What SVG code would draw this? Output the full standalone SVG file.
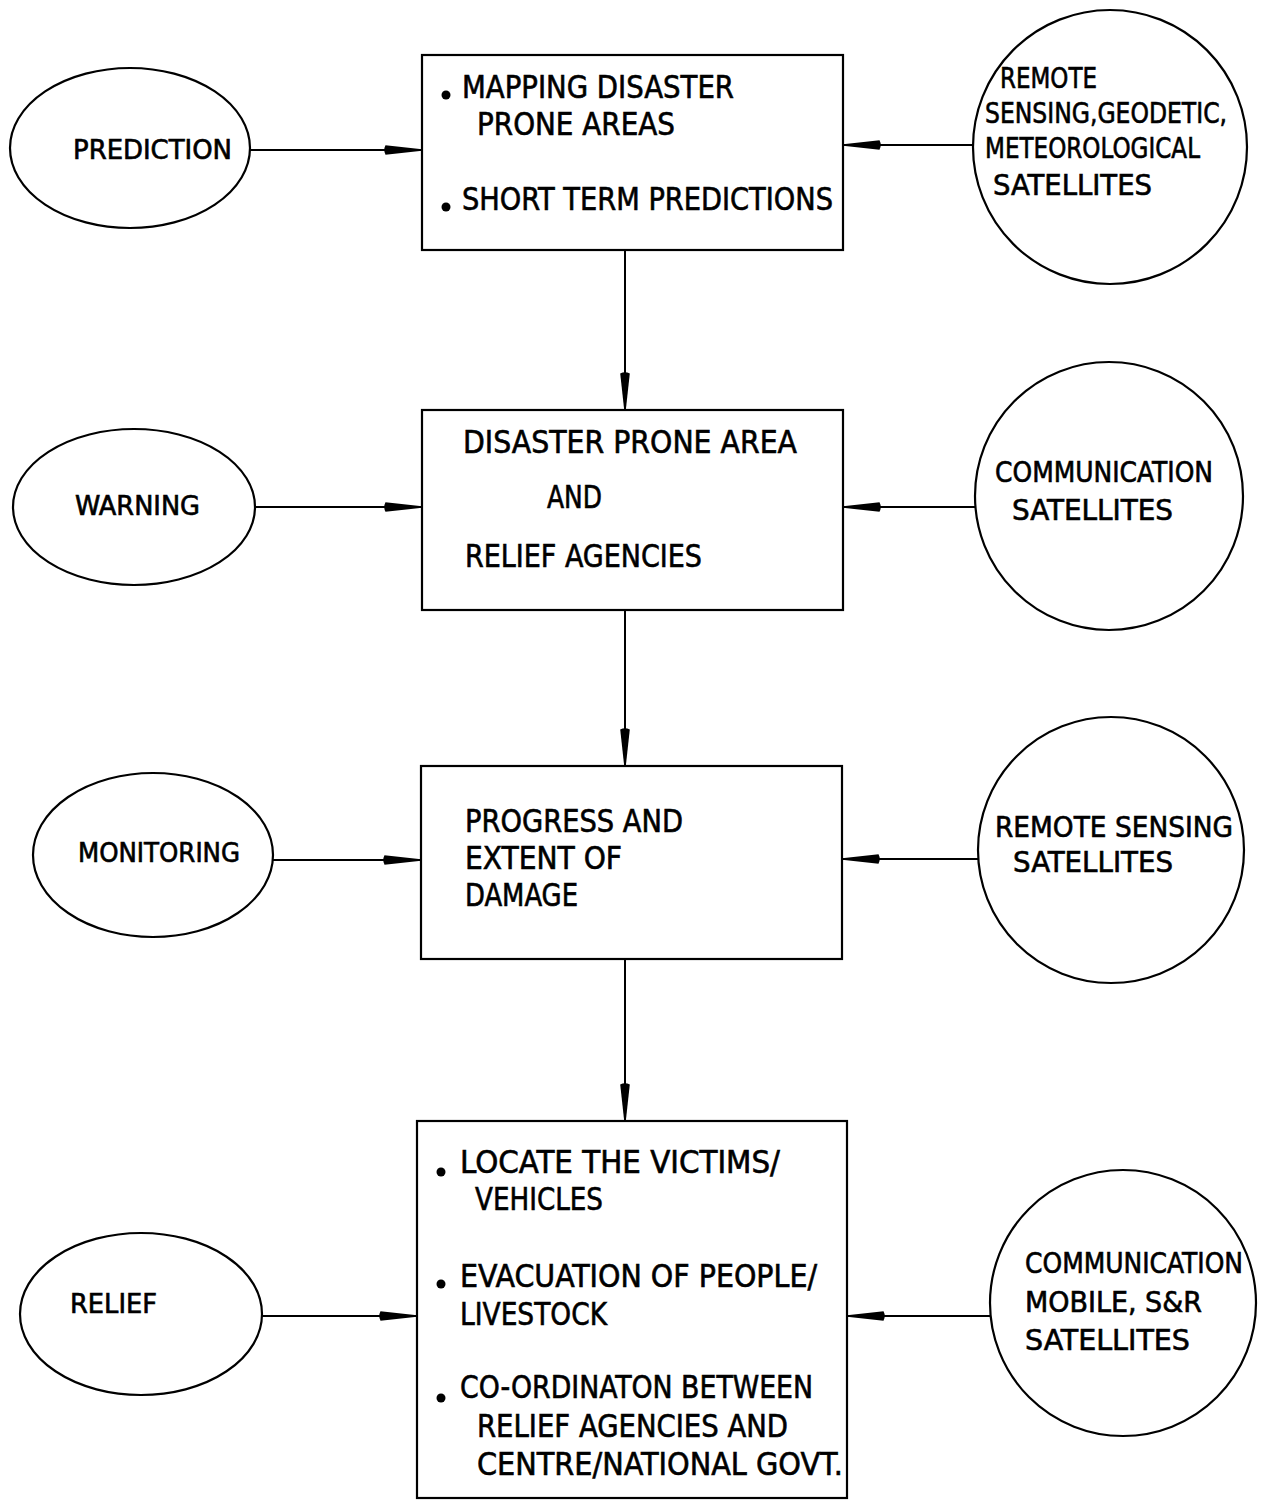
<svg xmlns="http://www.w3.org/2000/svg" width="1270" height="1500" viewBox="0 0 1270 1500">
  <style>
    .shape { fill: #fff; stroke: #000; stroke-width: 2.2; }
    .link { fill: none; stroke: #000; stroke-width: 2; }
    text { font-family: "Liberation Sans Narrow", "DejaVu Sans Condensed", "Liberation Sans", sans-serif; fill: #000; stroke: #000; stroke-width: 0.6; }
    .box { font-size: 32px; }
    .sat { font-size: 29px; }
    .phase { font-size: 26px; }
    .dot { fill: #000; }
  </style>
  <defs>
    <marker id="head" viewBox="0 0 38 12" refX="38" refY="6" markerWidth="38" markerHeight="12" markerUnits="userSpaceOnUse" orient="auto">
      <path d="M1.5,1.2 Q-1,6 1.5,10.8 L38,6.8 L38,5.2 Z" fill="#000"/>
    </marker>
  </defs>

  <rect width="1270" height="1500" fill="#fff"/>

  <!-- connectors -->
  <g id="connectors">
    <line class="link" x1="250" y1="150" x2="422" y2="150" marker-end="url(#head)"/>
    <line class="link" x1="973" y1="145" x2="843" y2="145" marker-end="url(#head)"/>
    <line class="link" x1="625" y1="250" x2="625" y2="410" marker-end="url(#head)"/>
    <line class="link" x1="255" y1="507" x2="422" y2="507" marker-end="url(#head)"/>
    <line class="link" x1="975" y1="507" x2="843" y2="507" marker-end="url(#head)"/>
    <line class="link" x1="625" y1="610" x2="625" y2="766" marker-end="url(#head)"/>
    <line class="link" x1="273" y1="860" x2="421" y2="860" marker-end="url(#head)"/>
    <line class="link" x1="980" y1="859" x2="842" y2="859" marker-end="url(#head)"/>
    <line class="link" x1="625" y1="959" x2="625" y2="1121" marker-end="url(#head)"/>
    <line class="link" x1="262" y1="1316" x2="417" y2="1316" marker-end="url(#head)"/>
    <line class="link" x1="990" y1="1316" x2="847" y2="1316" marker-end="url(#head)"/>
  </g>

  <!-- phase ellipses -->
  <g id="prediction">
    <ellipse class="shape" cx="130" cy="148" rx="120" ry="80"/>
    <text class="phase" x="73" y="159" textLength="159" lengthAdjust="spacingAndGlyphs">PREDICTION</text>
  </g>
  <g id="warning">
    <ellipse class="shape" cx="134" cy="507" rx="121" ry="78"/>
    <text class="phase" x="75" y="515" textLength="125" lengthAdjust="spacingAndGlyphs">WARNING</text>
  </g>
  <g id="monitoring">
    <ellipse class="shape" cx="153" cy="855" rx="120" ry="82"/>
    <text class="phase" x="78" y="862" textLength="162" lengthAdjust="spacingAndGlyphs">MONITORING</text>
  </g>
  <g id="relief">
    <ellipse class="shape" cx="141" cy="1314" rx="121" ry="81"/>
    <text class="phase" x="70" y="1313" textLength="87" lengthAdjust="spacingAndGlyphs">RELIEF</text>
  </g>

  <!-- activity boxes -->
  <g id="box-prediction">
    <rect class="shape" x="422" y="55" width="421" height="195"/>
    <circle class="dot" cx="446" cy="95" r="4.5"/>
    <text class="box" x="462" y="98" textLength="272" lengthAdjust="spacingAndGlyphs">MAPPING DISASTER</text>
    <text class="box" x="477" y="135" textLength="198" lengthAdjust="spacingAndGlyphs">PRONE AREAS</text>
    <circle class="dot" cx="446" cy="207" r="4.5"/>
    <text class="box" x="462" y="210" textLength="371" lengthAdjust="spacingAndGlyphs">SHORT TERM PREDICTIONS</text>
  </g>
  <g id="box-warning">
    <rect class="shape" x="422" y="410" width="421" height="200"/>
    <text class="box" x="463" y="453" textLength="334" lengthAdjust="spacingAndGlyphs">DISASTER PRONE AREA</text>
    <text class="box" x="547" y="508" textLength="55" lengthAdjust="spacingAndGlyphs">AND</text>
    <text class="box" x="465" y="567" textLength="237" lengthAdjust="spacingAndGlyphs">RELIEF AGENCIES</text>
  </g>
  <g id="box-monitoring">
    <rect class="shape" x="421" y="766" width="421" height="193"/>
    <text class="box" x="465" y="832" textLength="218" lengthAdjust="spacingAndGlyphs">PROGRESS AND</text>
    <text class="box" x="465" y="869" textLength="157" lengthAdjust="spacingAndGlyphs">EXTENT OF</text>
    <text class="box" x="465" y="906" textLength="113" lengthAdjust="spacingAndGlyphs">DAMAGE</text>
  </g>
  <g id="box-relief">
    <rect class="shape" x="417" y="1121" width="430" height="377"/>
    <circle class="dot" cx="441" cy="1172" r="4.5"/>
    <text class="box" x="460" y="1173" textLength="320" lengthAdjust="spacingAndGlyphs">LOCATE THE VICTIMS/</text>
    <text class="box" x="475" y="1210" textLength="128" lengthAdjust="spacingAndGlyphs">VEHICLES</text>
    <circle class="dot" cx="441" cy="1284" r="4.5"/>
    <text class="box" x="460" y="1287" textLength="357" lengthAdjust="spacingAndGlyphs">EVACUATION OF PEOPLE/</text>
    <text class="box" x="460" y="1325" textLength="147" lengthAdjust="spacingAndGlyphs">LIVESTOCK</text>
    <circle class="dot" cx="441" cy="1398" r="4.5"/>
    <text class="box" x="460" y="1398" textLength="353" lengthAdjust="spacingAndGlyphs">CO-ORDINATON BETWEEN</text>
    <text class="box" x="477" y="1437" textLength="311" lengthAdjust="spacingAndGlyphs">RELIEF AGENCIES AND</text>
    <text class="box" x="477" y="1475" textLength="366" lengthAdjust="spacingAndGlyphs">CENTRE/NATIONAL GOVT.</text>
  </g>

  <!-- satellite circles -->
  <g id="sat-prediction">
    <circle class="shape" cx="1110" cy="147" r="137"/>
    <text class="sat" x="1000" y="88" textLength="97" lengthAdjust="spacingAndGlyphs">REMOTE</text>
    <text class="sat" x="985" y="123" textLength="242" lengthAdjust="spacingAndGlyphs">SENSING,GEODETIC,</text>
    <text class="sat" x="985" y="158" textLength="215" lengthAdjust="spacingAndGlyphs">METEOROLOGICAL</text>
    <text class="sat" x="993" y="195" textLength="159" lengthAdjust="spacingAndGlyphs">SATELLITES</text>
  </g>
  <g id="sat-warning">
    <circle class="shape" cx="1109" cy="496" r="134"/>
    <text class="sat" x="995" y="482" textLength="218" lengthAdjust="spacingAndGlyphs">COMMUNICATION</text>
    <text class="sat" x="1012" y="520" textLength="161" lengthAdjust="spacingAndGlyphs">SATELLITES</text>
  </g>
  <g id="sat-monitoring">
    <circle class="shape" cx="1111" cy="850" r="133"/>
    <text class="sat" x="995" y="837" textLength="238" lengthAdjust="spacingAndGlyphs">REMOTE SENSING</text>
    <text class="sat" x="1013" y="872" textLength="160" lengthAdjust="spacingAndGlyphs">SATELLITES</text>
  </g>
  <g id="sat-relief">
    <circle class="shape" cx="1123" cy="1303" r="133"/>
    <text class="sat" x="1025" y="1273" textLength="218" lengthAdjust="spacingAndGlyphs">COMMUNICATION</text>
    <text class="sat" x="1025" y="1312" textLength="177" lengthAdjust="spacingAndGlyphs">MOBILE, S&amp;R</text>
    <text class="sat" x="1025" y="1350" textLength="165" lengthAdjust="spacingAndGlyphs">SATELLITES</text>
  </g>
</svg>
